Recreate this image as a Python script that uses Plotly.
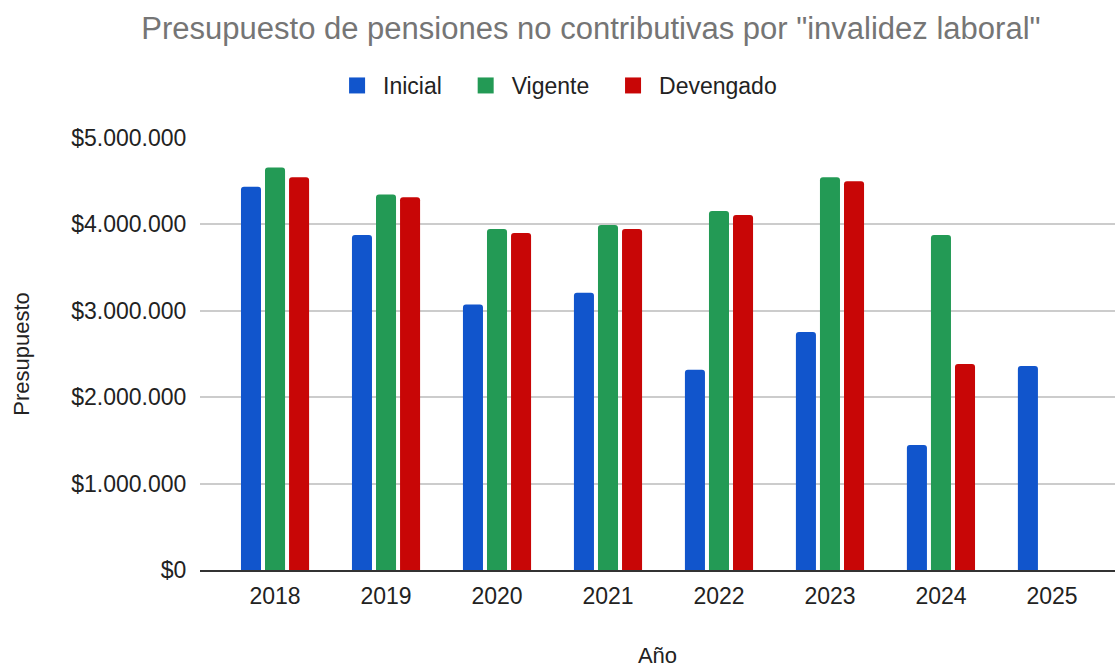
import plotly.graph_objects as go

years = ["2018", "2019", "2020", "2021", "2022", "2023", "2024", "2025"]
inicial = [4435000, 3878000, 3074000, 3210000, 2317000, 2754000, 1447000, 2360000]
vigente = [4660000, 4345000, 3948000, 3994000, 4156000, 4546000, 3878000, None]
devengado = [4546000, 4314000, 3900000, 3948000, 4110000, 4500000, 2383000, None]

series_names = ["Inicial", "Vigente", "Devengado"]
colors = ["#1155CC", "#239A55", "#C80606"]

ytick_vals = [0, 1000000, 2000000, 3000000, 4000000, 5000000]
ytick_text = ["$0", "$1.000.000", "$2.000.000", "$3.000.000", "$4.000.000", "$5.000.000"]

FONT = "Liberation Sans, Arial, sans-serif"

fig = go.Figure()
for name, vals, col in zip(series_names, [inicial, vigente, devengado], colors):
    fig.add_trace(go.Bar(x=years, y=vals, name=name, marker_color=col,
                         marker_line_width=0, showlegend=False))
    # legend proxy
    fig.add_trace(go.Scatter(x=[None], y=[None], mode="markers", name=name + "  ",
                             marker=dict(symbol="square", size=22, color=col),
                             showlegend=True))

fig.update_layout(
    width=1115, height=668,
    margin=dict(l=200, r=0, t=138, b=98),
    paper_bgcolor="white", plot_bgcolor="white",
    font=dict(family=FONT, size=23, color="#222222"),
    barmode="group", bargap=0.35, bargroupgap=0.167,
    barcornerradius=3,
    title=dict(text='Presupuesto de pensiones no contributivas por "invalidez laboral"',
               x=0.53, xref="container", xanchor="center",
               y=0.958, yref="container", yanchor="middle",
               font=dict(size=31, color="#757575", family=FONT)),
    legend=dict(orientation="h", x=0.505, xref="container", xanchor="center",
                y=0.872, yref="container", yanchor="middle",
                font=dict(size=23, color="#222222"), itemsizing="trace",
                itemwidth=42, bgcolor="rgba(0,0,0,0)"),
    xaxis=dict(range=[-0.676, 7.568], showgrid=False, showline=True,
               linecolor="#333333", linewidth=2,
               ticks="outside", ticklen=4, tickcolor="rgba(0,0,0,0)",
               tickfont=dict(size=23, color="#222222"),
               title=dict(text="Año", font=dict(size=22, color="#222222"), standoff=42)),
    yaxis=dict(range=[0, 5000000], tickvals=ytick_vals, ticktext=ytick_text,
               showgrid=True, gridcolor="#CCCCCC", gridwidth=1.5,
               zeroline=False, showline=False,
               ticks="outside", ticklen=8, tickcolor="rgba(0,0,0,0)",
               tickfont=dict(size=23, color="#222222"),
               title=dict(text="Presupuesto", font=dict(size=22, color="#222222"), standoff=35)),
)
fig.write_html("out.html")
